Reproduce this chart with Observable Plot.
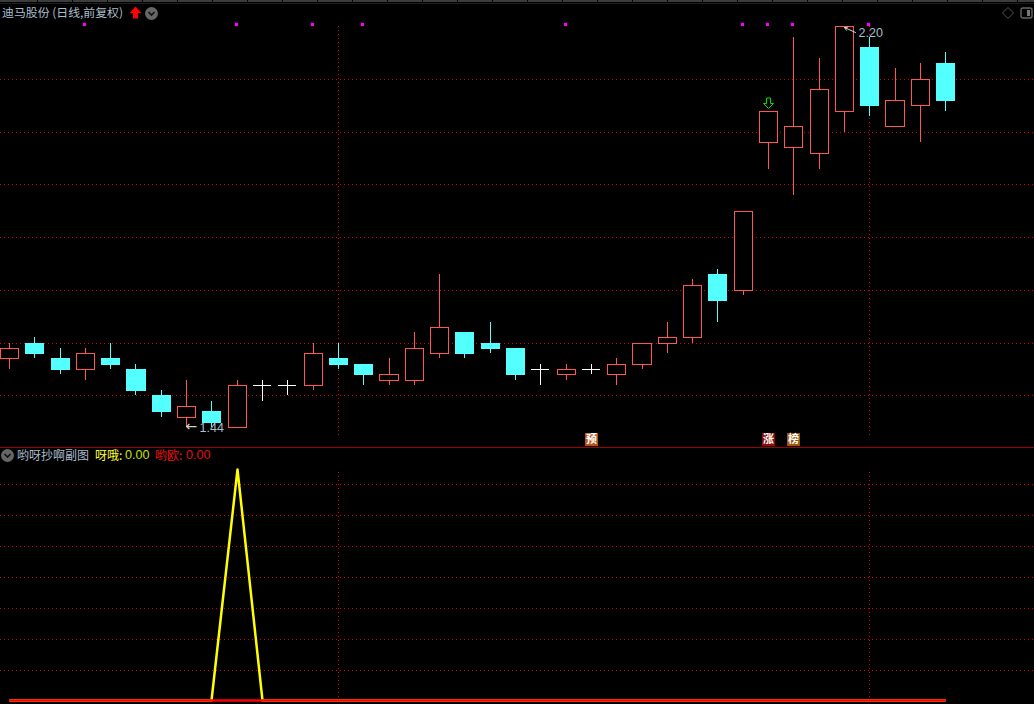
<!DOCTYPE html>
<html><head><meta charset="utf-8">
<script src="https://cdn.jsdelivr.net/npm/d3@7"></script>
<script src="https://cdn.jsdelivr.net/npm/@observablehq/plot@0.6"></script>
<style>
html,body{margin:0;padding:0;background:#000;width:1034px;height:704px;overflow:hidden}
#root{position:relative;width:1034px;height:704px;background:#000}
#main,#sub{position:absolute;left:0}
#main{top:0}#sub{top:447px}
svg{display:block}
.t{position:absolute;white-space:nowrap;font:12px/14px "Noto Sans CJK SC","Liberation Sans",sans-serif;color:#a9bccd}
.c{position:absolute;width:13px;height:13px;border-radius:50%;background:#666}
.c svg{position:absolute;left:0;top:0}
</style></head><body><div id="root">
<div id="main"></div><div id="sub"></div>
<div style="position:absolute;left:0;top:0;width:1034px;height:2px;background:repeating-linear-gradient(90deg,#3c3c3c 0 34px,#000 34px 35px);background-position:3px 0"></div>
<div style="position:absolute;left:0;top:3px;width:1034px;height:1px;background:#1c1c1c"></div>
<div style="position:absolute;left:0;top:447px;width:1034px;height:1px;background:#a00000"></div>
<div class="t" style="left:2px;top:5px;font-size:11.9px">迪马股份 (日线,前复权)</div>
<svg style="position:absolute;left:129px;top:6px" width="13" height="13"><path d="M6.5 0.5L12.5 7H9V12.5H4V7H0.5Z" fill="#ff0000"/></svg>
<div class="c" style="left:145px;top:6.5px"><svg width="13" height="13"><path d="M3.5 5L6.5 8L9.5 5" fill="none" stroke="#111" stroke-width="1.6"/></svg></div>
<svg style="position:absolute;left:1002px;top:7px" width="12" height="12"><path d="M6 0.5L11.5 6L6 11.5L0.5 6Z" fill="none" stroke="#555"/></svg>
<svg style="position:absolute;left:1020px;top:7px" width="14" height="13"><rect x="1" y="1" width="11" height="10" rx="2" fill="none" stroke="#666" stroke-width="1.4"/><rect x="7" y="3" width="3" height="6" fill="#777"/></svg>
<div class="c" style="left:1px;top:448.5px"><svg width="13" height="13"><path d="M3.5 5L6.5 8L9.5 5" fill="none" stroke="#111" stroke-width="1.6"/></svg></div>
<div class="t" style="left:17px;top:448px">哟呀抄啊副图</div>
<div class="t" style="left:95px;top:448px;color:#ffff30">呀哦:</div>
<div class="t" style="left:125px;top:448px;color:#c8e000;font-family:'Liberation Sans';font-size:12.6px">0.00</div>
<div class="t" style="left:155px;top:448px;color:#f01010">哟欧:</div>
<div class="t" style="left:186px;top:448px;color:#e01010;font-family:'Liberation Sans';font-size:12.6px">0.00</div>
</div>
<script>
const opens  = [1.57,1.60,1.57,1.55,1.57,1.55,1.50,1.46,1.47,1.44,1.52,1.52,1.52,1.57,1.56,1.53,1.53,1.58,1.62,1.60,1.59,1.55,1.54,1.55,1.54,1.56,1.60,1.61,1.73,1.70,1.98,1.97,1.96,2.04,2.16,2.01,2.05,2.13];
const closes = [1.59,1.58,1.55,1.58,1.56,1.51,1.47,1.48,1.45,1.52,1.52,1.52,1.58,1.56,1.54,1.54,1.59,1.63,1.58,1.59,1.54,1.55,1.55,1.55,1.56,1.60,1.61,1.71,1.68,1.85,2.04,2.01,2.08,2.20,2.05,2.06,2.10,2.06];
const highs  = [1.60,1.61,1.59,1.59,1.60,1.56,1.51,1.53,1.49,1.53,1.53,1.53,1.60,1.60,1.56,1.57,1.62,1.73,1.62,1.64,1.59,1.56,1.56,1.56,1.57,1.60,1.64,1.72,1.74,1.85,2.04,2.18,2.14,2.20,2.18,2.12,2.13,2.15];
const lows   = [1.55,1.57,1.54,1.53,1.55,1.50,1.46,1.44,1.44,1.44,1.49,1.50,1.51,1.55,1.52,1.52,1.52,1.57,1.57,1.58,1.53,1.52,1.53,1.54,1.52,1.55,1.58,1.60,1.64,1.69,1.93,1.88,1.93,2.00,2.03,2.01,1.98,2.04];
const priceGrid = [1.5,1.6,1.7,1.8,1.9,2.0,2.1];
const signalDays = [3,9,12,14,22,29,30,31,34];
const signalLevel = 2.204;
const crossDays = [13,34];
const badgeDays = [23,30,31];
const badgeChars = ["预","涨","榜"];
const badgeColors = ["#b5541c","#8b0f0f","#9c5a10"];
const badgeLevel = 1.417;
const yellowSeries = [0,0,0,0,0,0,0,0,0,1,0,0,0,0,0,0,0,0,0,0,0,0,0,0,0,0,0,0,0,0,0,0,0,0,0,0,0,0];
const redSeries    = [0,0,0,0,0,0,0,0,0,0,0,0,0,0,0,0,0,0,0,0,0,0,0,0,0,0,0,0,0,0,0,0,0,0,0,0,0,0];
const subGrid = [0.13,0.264,0.398,0.532,0.667,0.801,0.935];

const days = d3.range(opens.length);
const UP="#ff5555", DOWN="#54ffff", GRID="#dd0000";
const xCfg = {domain:[-9/25.3,(1034-9)/25.3],range:[0,1034],axis:null,round:true};
const hw = 0.356;
const solid = days.filter(i=>closes[i]!==opens[i]);
const crosses = days.filter(i=>closes[i]===opens[i]);
const col = i=>closes[i]>opens[i]?UP:closes[i]<opens[i]?DOWN:"#fff";
const arrowSym = {draw(c){c.moveTo(-2,-5.5);c.lineTo(2,-5.5);c.lineTo(2,0);c.lineTo(5,0);c.lineTo(0,5);c.lineTo(-5,0);c.lineTo(-2,0);c.closePath();}};
const dash = {stroke:GRID,strokeDasharray:"1 3",strokeWidth:1};

const main = Plot.plot({
  width:1034,height:447,margin:0,
  style:{background:"#000"},
  x:xCfg,
  y:{domain:[2.2-420.9/527.6,2.2+26.1/527.6],range:[447,0],axis:null,round:true},
  marks:[
    Plot.ruleY(priceGrid,{...dash}),
    Plot.ruleX(crossDays,{y1:1.425,y2:2.2,...dash}),
    Plot.ruleX(days,{x:i=>i,y1:i=>lows[i],y2:i=>highs[i],stroke:col}),
    Plot.rect(solid,{x1:i=>i-hw,x2:i=>i+hw,y1:i=>opens[i],y2:i=>closes[i],stroke:col,fill:i=>closes[i]>opens[i]?"#000":DOWN,dx:0.5,dy:0.5}),
    Plot.ruleY(crosses,{y:i=>opens[i],x1:i=>i-hw,x2:i=>i+hw,stroke:"#fff"}),
    Plot.dot(signalDays,{x:i=>i,y:()=>signalLevel,symbol:"square",r:1.8,fill:"#ff00ff",dx:-1}),
    Plot.dot([30],{x:i=>i,y:()=>2.0546,symbol:arrowSym,stroke:"#00e000",fill:"none",strokeWidth:1}),
    Plot.arrow([33],{x1:()=>33.45,y1:()=>2.189,x2:()=>33.02,y2:()=>2.199,stroke:"#d8d8d8",headLength:5,strokeWidth:1}),
    Plot.text(["2.20"],{x:()=>33,y:()=>2.2,text:d=>d,dx:14,dy:6,textAnchor:"start",fill:"#a9bccd",fontSize:12.5,fontFamily:"Liberation Sans"}),
    Plot.text(["←"],{x:()=>7,y:()=>1.44,text:d=>d,dx:-1,dy:-1,textAnchor:"start",fill:"#d0d0d0",fontSize:14,fontFamily:"DejaVu Sans"}),
    Plot.text(["1.44"],{x:()=>7,y:()=>1.44,text:d=>d,dx:13,dy:0,textAnchor:"start",fill:"#a9bccd",fontSize:12.5,fontFamily:"Liberation Sans"}),
    Plot.dot(badgeDays,{x:i=>i,y:()=>badgeLevel,symbol:"square",r:7.3,fill:(i,k)=>badgeColors[k]}),
    Plot.text(badgeDays,{x:i=>i,y:()=>badgeLevel,text:(i,k)=>badgeChars[k],fill:"#fff",fontSize:11,fontWeight:"bold",fontFamily:"Noto Sans CJK SC"})
  ]
});
document.getElementById("main").append(main);

const sub = Plot.plot({
  width:1034,height:257,margin:0,
  style:{background:"#000"},
  x:xCfg,
  y:{domain:[0,1],range:[253,22],axis:null,round:true},
  marks:[
    Plot.ruleY(subGrid,{...dash}),
    Plot.ruleX(crossDays,{y1:-0.02,y2:1,...dash}),
    Plot.line(days,{x:i=>i,y:i=>yellowSeries[i],stroke:"#ffff00",strokeWidth:2.5,curve:"linear",strokeLinecap:"butt"}),
    Plot.line(days,{x:i=>i,y:i=>redSeries[i],stroke:"#ff0000",strokeWidth:2.5,strokeLinecap:"butt"})
  ]
});
document.getElementById("sub").append(sub);
</script></body></html>
